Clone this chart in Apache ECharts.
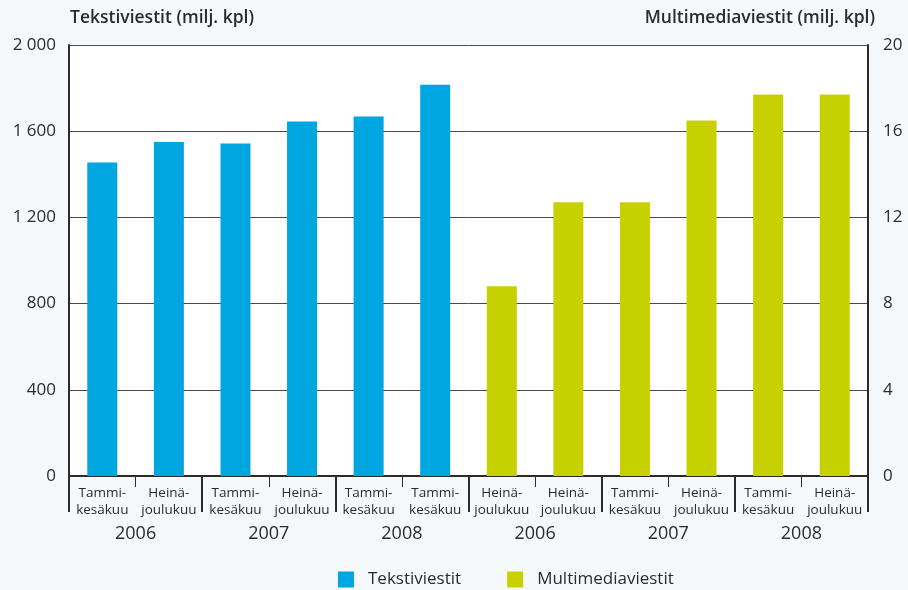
<!DOCTYPE html>
<html>
<head>
<meta charset="utf-8">
<script src="https://cdn.jsdelivr.net/npm/echarts@6/dist/echarts.min.js"></script>
<style>
  html, body { margin: 0; padding: 0; background: #f5f9fc; }
  #chart { width: 908px; height: 590px; }
</style>
</head>
<body>
<div id="chart"></div>
<script>
// jakso-akselin nimet (12 palkkia)
var periods = ['Tammi-\nkesäkuu', 'Heinä-\njoulukuu', 'Tammi-\nkesäkuu', 'Heinä-\njoulukuu',
               'Tammi-\nkesäkuu', 'Tammi-\nkesäkuu', 'Heinä-\njoulukuu', 'Heinä-\njoulukuu',
               'Tammi-\nkesäkuu', 'Heinä-\njoulukuu', 'Tammi-\nkesäkuu', 'Heinä-\njoulukuu'];
var years = ['2006', '2007', '2008', '2006', '2007', '2008'];

var textValues = [1455, 1550, 1543, 1645, 1668, 1815];   // milj. kpl
var mmsValues = [8.8, 12.7, 12.7, 16.5, 17.7, 17.7];      // milj. kpl

var leftTicks = [0, 400, 800, 1200, 1600, 2000];
var rightTicks = [0, 4, 8, 12, 16, 20];

function addChart (divid) {
  var myChart = echarts.init(document.getElementById(divid));

  var blank = ['-', '-', '-', '-', '-', '-'];
  var textData = textValues.concat(blank);
  var mmsData = blank.concat(mmsValues);

  var font = '"Open Sans", "Noto Sans", sans-serif';

  var option = {
    backgroundColor: '#f5f9fc',
    textStyle: { fontFamily: font },
    grid: {
      left: 69, right: 40, top: 45, bottom: 114,
      show: true, backgroundColor: '#ffffff', borderWidth: 0
    },
    legend: {
      left: 333, top: 566,
      icon: 'rect', itemWidth: 16, itemHeight: 16, itemGap: 46,
      textStyle: { fontSize: 17, color: '#2b2b2b', padding: [0, 0, 0, 9] },
      data: ['Tekstiviestit', 'Multimediaviestit']
    },
    xAxis: [
      {
        type: 'category',
        data: periods,
        axisLine: { lineStyle: { color: '#2b2b2b', width: 2 } },
        axisTick: { show: true, length: 11, interval: 0, lineStyle: { color: '#2b2b2b', width: 1 } },
        axisLabel: { interval: 0, fontSize: 13.5, color: '#2b2b2b', lineHeight: 17, margin: 9 }
      },
      {
        type: 'category',
        position: 'bottom',
        data: years,
        axisLine: { show: false },
        axisTick: { show: true, length: 36, interval: 0, lineStyle: { color: '#2b2b2b', width: 2 } },
        axisLabel: { interval: 0, fontSize: 18, color: '#2b2b2b', margin: 49 }
      }
    ],
    yAxis: [
      {
        type: 'value',
        min: leftTicks[0], max: leftTicks[leftTicks.length - 1], interval: 400,
        name: 'Tekstiviestit (milj. kpl)',
        nameLocation: 'end', nameGap: 18,
        nameTextStyle: { align: 'left', fontSize: 17.5, fontWeight: 600, color: '#2b2b2b', padding: [0, 0, 0, 1] },
        axisLine: { show: true, lineStyle: { color: '#2b2b2b', width: 2 } },
        axisTick: { show: false },
        axisLabel: {
          fontSize: 17, color: '#2b2b2b', margin: 13,
          formatter: function (v) { return String(v).replace(/\B(?=(\d{3})+(?!\d))/g, ' '); }
        },
        splitLine: { lineStyle: { color: '#4a4a4a', width: 1 } }
      },
      {
        type: 'value',
        min: rightTicks[0], max: rightTicks[rightTicks.length - 1], interval: 4,
        name: 'Multimediaviestit (milj. kpl)',
        nameLocation: 'end', nameGap: 18,
        nameTextStyle: { align: 'right', fontSize: 17.5, fontWeight: 600, color: '#2b2b2b', padding: [0, -7, 0, 0] },
        axisLine: { show: true, lineStyle: { color: '#2b2b2b', width: 2 } },
        axisTick: { show: false },
        axisLabel: { fontSize: 17, color: '#2b2b2b', margin: 15 },
        splitLine: { show: false }
      }
    ],
    series: [
      {
        name: 'Tekstiviestit',
        type: 'bar',
        xAxisIndex: 0, yAxisIndex: 0,
        barWidth: 30, barGap: '-100%',
        itemStyle: { color: '#00a6e0' },
        data: textData
      },
      {
        name: 'Multimediaviestit',
        type: 'bar',
        xAxisIndex: 0, yAxisIndex: 1,
        barWidth: 30, barGap: '-100%',
        itemStyle: { color: '#c8d100' },
        data: mmsData
      }
    ]
  };

  myChart.setOption(option);
}

addChart('chart');
</script>
</body>
</html>
